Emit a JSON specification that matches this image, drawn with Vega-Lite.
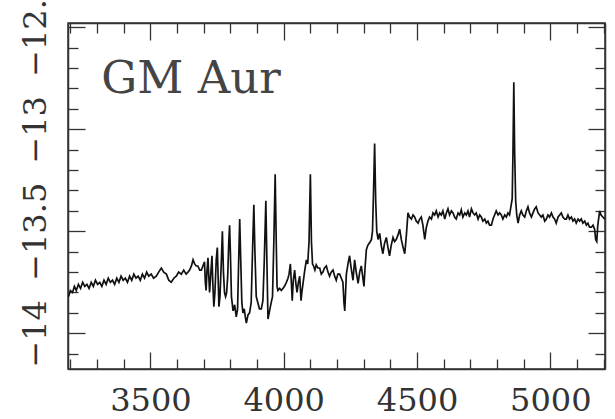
{
"$schema": "https://vega.github.io/schema/vega-lite/v6.json",
"width": 537,
"height": 346,
"autosize": {"type": "none"},
"padding": {"left": 68, "top": 23, "right": 10, "bottom": 50},
"background": "white",
"config": {
  "view": {"stroke": "#333", "strokeWidth": 1.5},
  "axis": {"domainColor": "#333", "domainWidth": 1.5, "tickColor": "#333", "tickWidth": 1.3, "labelFont": "DejaVu Serif", "labelFontSize": 32, "labelColor": "#333", "grid": false, "title": null}
},
"layer": [
{
  "data": {"values": [
{"w":3193,"f":-13.82},{"w":3200,"f":-13.79},{"w":3208,"f":-13.80},{"w":3215,"f":-13.77},{"w":3222,"f":-13.79},{"w":3230,"f":-13.76},{"w":3238,"f":-13.78},{"w":3246,"f":-13.75},{"w":3254,"f":-13.77},{"w":3262,"f":-13.76},{"w":3270,"f":-13.78},{"w":3278,"f":-13.75},{"w":3286,"f":-13.77},{"w":3294,"f":-13.74},{"w":3302,"f":-13.76},{"w":3310,"f":-13.75},{"w":3318,"f":-13.77},{"w":3326,"f":-13.74},{"w":3334,"f":-13.76},{"w":3342,"f":-13.73},{"w":3350,"f":-13.75},{"w":3358,"f":-13.74},{"w":3366,"f":-13.76},{"w":3374,"f":-13.73},{"w":3382,"f":-13.75},{"w":3390,"f":-13.72},{"w":3398,"f":-13.74},{"w":3406,"f":-13.73},{"w":3414,"f":-13.75},{"w":3422,"f":-13.72},{"w":3430,"f":-13.74},{"w":3438,"f":-13.71},{"w":3446,"f":-13.73},{"w":3454,"f":-13.72},{"w":3462,"f":-13.74},{"w":3470,"f":-13.71},{"w":3478,"f":-13.73},{"w":3486,"f":-13.70},{"w":3494,"f":-13.72},
{"w":3503,"f":-13.71},{"w":3512,"f":-13.73},{"w":3522,"f":-13.72},{"w":3531,"f":-13.70},{"w":3541,"f":-13.68},{"w":3550,"f":-13.70},{"w":3560,"f":-13.71},{"w":3569,"f":-13.74},{"w":3578,"f":-13.75},{"w":3588,"f":-13.73},{"w":3597,"f":-13.72},{"w":3606,"f":-13.70},{"w":3616,"f":-13.71},{"w":3625,"f":-13.69},{"w":3634,"f":-13.71},{"w":3641,"f":-13.70},{"w":3647,"f":-13.69},{"w":3654,"f":-13.67},{"w":3660,"f":-13.64},{"w":3666,"f":-13.66},{"w":3672,"f":-13.67},{"w":3678,"f":-13.67},{"w":3685,"f":-13.69},{"w":3691,"f":-13.69},{"w":3697,"f":-13.67},{"w":3703,"f":-13.65},{"w":3706,"f":-13.75},{"w":3709,"f":-13.79},{"w":3712,"f":-13.70},{"w":3716,"f":-13.63},{"w":3719,"f":-13.72},{"w":3722,"f":-13.80},{"w":3726,"f":-13.72},{"w":3731,"f":-13.62},{"w":3734,"f":-13.75},{"w":3738,"f":-13.87},{"w":3742,"f":-13.80},{"w":3747,"f":-13.64},{"w":3751,"f":-13.58},{"w":3754,"f":-13.72},{"w":3757,"f":-13.87},{"w":3761,"f":-13.82},{"w":3766,"f":-13.65},{"w":3770,"f":-13.50},{"w":3774,"f":-13.70},{"w":3778,"f":-13.80},{"w":3782,"f":-13.82},{"w":3786,"f":-13.80},{"w":3790,"f":-13.72},{"w":3794,"f":-13.55},{"w":3797,"f":-13.47},{"w":3800,"f":-13.60},{"w":3804,"f":-13.82},{"w":3810,"f":-13.89},{"w":3816,"f":-13.86},{"w":3822,"f":-13.92},{"w":3827,"f":-13.88},{"w":3831,"f":-13.65},{"w":3835,"f":-13.44},{"w":3839,"f":-13.65},{"w":3843,"f":-13.85},{"w":3847,"f":-13.90},{"w":3852,"f":-13.88},{"w":3856,"f":-13.92},{"w":3860,"f":-13.95},{"w":3866,"f":-13.91},{"w":3872,"f":-13.90},{"w":3878,"f":-13.85},{"w":3883,"f":-13.60},{"w":3888,"f":-13.37},{"w":3892,"f":-13.60},{"w":3897,"f":-13.82},{"w":3903,"f":-13.85},{"w":3909,"f":-13.88},{"w":3916,"f":-13.88},{"w":3922,"f":-13.84},{"w":3927,"f":-13.65},{"w":3933,"f":-13.35},{"w":3937,"f":-13.65},{"w":3941,"f":-13.93},{"w":3947,"f":-13.89},{"w":3953,"f":-13.85},{"w":3958,"f":-13.82},{"w":3963,"f":-13.55},{"w":3968,"f":-13.22},{"w":3972,"f":-13.55},{"w":3975,"f":-13.77},{"w":3978,"f":-13.79},{"w":3985,"f":-13.78},{"w":3991,"f":-13.79},{"w":3997,"f":-13.78},{"w":4003,"f":-13.77},{"w":4010,"f":-13.75},{"w":4016,"f":-13.73},{"w":4020,"f":-13.71},{"w":4025,"f":-13.66},{"w":4029,"f":-13.76},{"w":4032,"f":-13.84},{"w":4036,"f":-13.74},{"w":4041,"f":-13.69},{"w":4046,"f":-13.76},{"w":4050,"f":-13.80},{"w":4055,"f":-13.75},{"w":4060,"f":-13.72},{"w":4065,"f":-13.84},{"w":4068,"f":-13.80},{"w":4072,"f":-13.76},{"w":4078,"f":-13.70},{"w":4085,"f":-13.64},{"w":4090,"f":-13.66},{"w":4095,"f":-13.55},{"w":4100,"f":-13.22},{"w":4104,"f":-13.55},{"w":4108,"f":-13.66},{"w":4112,"f":-13.67},{"w":4117,"f":-13.69},{"w":4122,"f":-13.665},{"w":4128,"f":-13.68},{"w":4135,"f":-13.68},{"w":4141,"f":-13.71},{"w":4147,"f":-13.70},{"w":4153,"f":-13.68},{"w":4160,"f":-13.67},{"w":4166,"f":-13.70},{"w":4172,"f":-13.72},{"w":4178,"f":-13.70},{"w":4185,"f":-13.69},{"w":4191,"f":-13.72},{"w":4197,"f":-13.74},{"w":4203,"f":-13.71},{"w":4210,"f":-13.71},{"w":4216,"f":-13.73},{"w":4222,"f":-13.75},{"w":4226,"f":-13.85},{"w":4229,"f":-13.89},{"w":4232,"f":-13.80},{"w":4235,"f":-13.71},{"w":4241,"f":-13.66},{"w":4247,"f":-13.62},{"w":4253,"f":-13.68},{"w":4260,"f":-13.74},{"w":4266,"f":-13.64},{"w":4272,"f":-13.70},{"w":4279,"f":-13.755},{"w":4285,"f":-13.70},{"w":4291,"f":-13.67},{"w":4296,"f":-13.72},{"w":4301,"f":-13.77},{"w":4305,"f":-13.68},{"w":4310,"f":-13.59},{"w":4315,"f":-13.57},{"w":4320,"f":-13.56},{"w":4325,"f":-13.55},{"w":4329,"f":-13.54},{"w":4333,"f":-13.50},{"w":4337,"f":-13.30},{"w":4341,"f":-13.07},{"w":4345,"f":-13.35},{"w":4349,"f":-13.50},{"w":4354,"f":-13.54},{"w":4360,"f":-13.51},{"w":4366,"f":-13.57},{"w":4372,"f":-13.61},{"w":4378,"f":-13.56},{"w":4385,"f":-13.53},{"w":4391,"f":-13.58},{"w":4397,"f":-13.62},{"w":4403,"f":-13.57},{"w":4410,"f":-13.53},{"w":4416,"f":-13.55},{"w":4422,"f":-13.54},{"w":4428,"f":-13.52},{"w":4435,"f":-13.49},{"w":4441,"f":-13.54},{"w":4447,"f":-13.575},{"w":4454,"f":-13.61},{"w":4460,"f":-13.52},{"w":4466,"f":-13.41},{"w":4472,"f":-13.43},{"w":4479,"f":-13.44},{"w":4485,"f":-13.42},{"w":4491,"f":-13.43},{"w":4497,"f":-13.45},{"w":4504,"f":-13.46},{"w":4510,"f":-13.44},{"w":4516,"f":-13.43},{"w":4522,"f":-13.47},{"w":4529,"f":-13.54},{"w":4535,"f":-13.48},{"w":4541,"f":-13.45},{"w":4547,"f":-13.43},{"w":4554,"f":-13.44},{"w":4560,"f":-13.41},{"w":4566,"f":-13.42},{"w":4572,"f":-13.40},{"w":4579,"f":-13.43},{"w":4585,"f":-13.41},{"w":4591,"f":-13.42},{"w":4597,"f":-13.40},{"w":4604,"f":-13.44},{"w":4610,"f":-13.41},{"w":4616,"f":-13.39},{"w":4622,"f":-13.42},{"w":4629,"f":-13.40},{"w":4635,"f":-13.41},{"w":4641,"f":-13.43},{"w":4647,"f":-13.44},{"w":4654,"f":-13.41},{"w":4660,"f":-13.42},{"w":4666,"f":-13.395},{"w":4672,"f":-13.43},{"w":4679,"f":-13.41},{"w":4685,"f":-13.42},{"w":4691,"f":-13.40},{"w":4697,"f":-13.43},{"w":4704,"f":-13.39},{"w":4710,"f":-13.41},{"w":4716,"f":-13.42},{"w":4722,"f":-13.41},{"w":4729,"f":-13.44},{"w":4735,"f":-13.42},{"w":4741,"f":-13.43},{"w":4747,"f":-13.45},{"w":4754,"f":-13.44},{"w":4760,"f":-13.46},{"w":4766,"f":-13.45},{"w":4772,"f":-13.47},{"w":4779,"f":-13.47},{"w":4785,"f":-13.44},{"w":4791,"f":-13.42},{"w":4797,"f":-13.40},{"w":4804,"f":-13.42},{"w":4810,"f":-13.41},{"w":4816,"f":-13.42},{"w":4822,"f":-13.44},{"w":4829,"f":-13.42},{"w":4835,"f":-13.43},{"w":4841,"f":-13.41},{"w":4847,"f":-13.42},{"w":4852,"f":-13.38},{"w":4857,"f":-13.34},{"w":4860,"f":-13.10},{"w":4863,"f":-12.77},{"w":4866,"f":-13.10},{"w":4870,"f":-13.35},{"w":4874,"f":-13.42},{"w":4879,"f":-13.46},{"w":4885,"f":-13.42},{"w":4891,"f":-13.40},{"w":4897,"f":-13.42},{"w":4904,"f":-13.43},{"w":4910,"f":-13.40},{"w":4916,"f":-13.38},{"w":4922,"f":-13.41},{"w":4929,"f":-13.43},{"w":4935,"f":-13.41},{"w":4941,"f":-13.39},{"w":4947,"f":-13.38},{"w":4954,"f":-13.41},{"w":4960,"f":-13.42},{"w":4966,"f":-13.43},{"w":4972,"f":-13.42},{"w":4979,"f":-13.45},{"w":4985,"f":-13.44},{"w":4991,"f":-13.42},{"w":4997,"f":-13.43},{"w":5004,"f":-13.41},{"w":5010,"f":-13.43},{"w":5016,"f":-13.44},{"w":5022,"f":-13.46},{"w":5029,"f":-13.43},{"w":5035,"f":-13.42},{"w":5041,"f":-13.41},{"w":5047,"f":-13.43},{"w":5054,"f":-13.44},{"w":5060,"f":-13.44},{"w":5066,"f":-13.42},{"w":5072,"f":-13.44},{"w":5079,"f":-13.43},{"w":5085,"f":-13.45},{"w":5091,"f":-13.44},{"w":5097,"f":-13.46},{"w":5104,"f":-13.44},{"w":5110,"f":-13.45},{"w":5116,"f":-13.44},{"w":5122,"f":-13.46},{"w":5129,"f":-13.45},{"w":5135,"f":-13.47},{"w":5141,"f":-13.46},{"w":5147,"f":-13.48},{"w":5154,"f":-13.48},{"w":5160,"f":-13.47},{"w":5166,"f":-13.49},{"w":5170,"f":-13.54},{"w":5174,"f":-13.55},{"w":5178,"f":-13.47},{"w":5185,"f":-13.40},{"w":5190,"f":-13.42},{"w":5197,"f":-13.43},{"w":5204,"f":-13.44}
  ]},
  "mark": {"type": "line", "color": "#111", "strokeWidth": 1.7, "clip": true},
  "encoding": {
    "x": {"field": "w", "type": "quantitative",
      "scale": {"domain": [3191, 5205], "nice": false, "zero": false},
      "axis": {"orient": "bottom",
        "values": [3200,3300,3400,3500,3600,3700,3800,3900,4000,4100,4200,4300,4400,4500,4600,4700,4800,4900,5000,5100,5200],
        "tickSize": {"condition": {"test": "datum.value % 500 === 0", "value": -17}, "value": -10},
        "labelExpr": "datum.value % 500 === 0 ? format(datum.value, 'd') : ''",
        "labelBaseline": "alphabetic", "labelPadding": 58, "labelFlush": false, "labelOverlap": false}},
    "y": {"field": "f", "type": "quantitative",
      "scale": {"domain": [-14.175, -12.479], "nice": false, "zero": false},
      "axis": {"orient": "left",
        "values": [-14.1,-14.0,-13.9,-13.8,-13.7,-13.6,-13.5,-13.4,-13.3,-13.2,-13.1,-13.0,-12.9,-12.8,-12.7,-12.6,-12.5],
        "tickSize": {"condition": {"test": "abs(round(datum.value*10)) % 5 === 0", "value": -17}, "value": -10},
        "labelExpr": "abs(round(datum.value*10)) % 5 === 0 ? format(datum.value, '.1~f') : ''",
        "labelAngle": 270, "labelAlign": "center", "labelBaseline": "alphabetic", "labelPadding": 40, "labelFlush": false, "labelOverlap": false}}
  }
},
{
  "data": {"values": [{"w": 3316, "f": -12.822, "t": "GM Aur"}]},
  "mark": {"type": "text", "align": "left", "baseline": "alphabetic", "font": "DejaVu Serif", "fontSize": 45, "color": "#444"},
  "encoding": {
    "x": {"field": "w", "type": "quantitative",
      "axis": {"orient": "top", "labels": false,
        "values": [3200,3300,3400,3500,3600,3700,3800,3900,4000,4100,4200,4300,4400,4500,4600,4700,4800,4900,5000,5100,5200],
        "tickSize": {"condition": {"test": "datum.value % 500 === 0", "value": -17}, "value": -10}}},
    "y": {"field": "f", "type": "quantitative",
      "axis": {"orient": "right", "labels": false,
        "values": [-14.1,-14.0,-13.9,-13.8,-13.7,-13.6,-13.5,-13.4,-13.3,-13.2,-13.1,-13.0,-12.9,-12.8,-12.7,-12.6,-12.5],
        "tickSize": {"condition": {"test": "abs(round(datum.value*10)) % 5 === 0", "value": -17}, "value": -10}}},
    "text": {"field": "t"}
  }
}
],
"resolve": {"axis": {"x": "independent", "y": "independent"}}
}
